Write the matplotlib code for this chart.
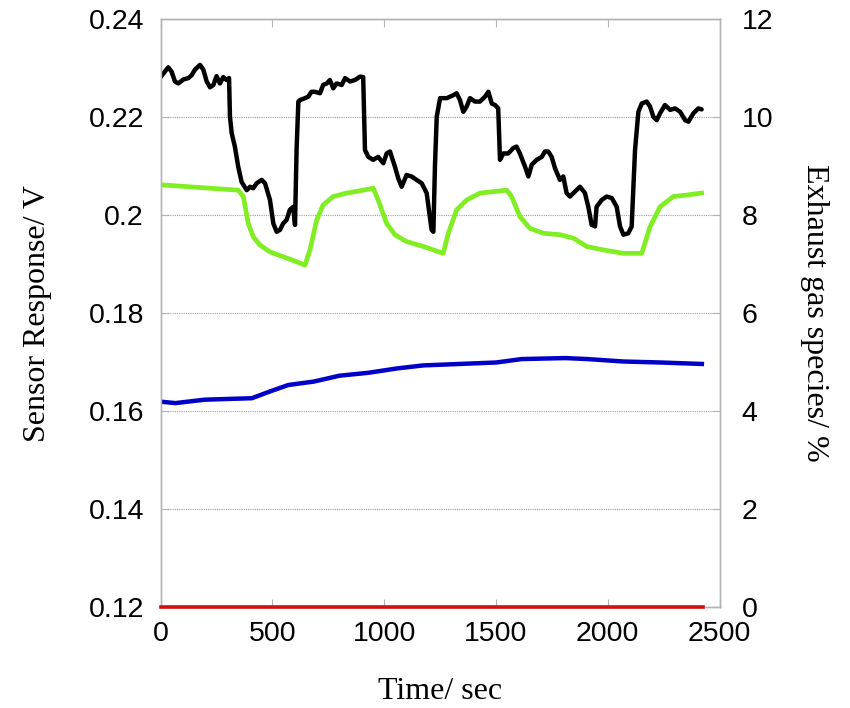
import matplotlib.pyplot as plt

# sensor response (left axis, V)
black_t = [0, 19, 34, 49, 64, 79, 101, 124, 139, 153, 176, 191, 206, 221, 236, 250, 265, 280, 295, 306,
           310, 318, 332, 347, 362, 385, 400, 414, 429, 452, 467, 489, 504, 519, 534, 548, 563, 578, 593, 601,
           608, 616, 623, 646, 660, 675, 690, 713, 727, 743, 757, 772, 787, 810, 825, 847, 869, 892, 906,
           914, 929, 951, 973, 996, 1011, 1026, 1048, 1063, 1078, 1100, 1122, 1145, 1168, 1190, 1212, 1220,
           1227, 1235, 1250, 1280, 1309, 1324, 1339, 1354, 1369, 1384, 1406, 1428, 1451, 1466, 1481, 1496, 1510,
           1518, 1533, 1555, 1577, 1592, 1607, 1630, 1645, 1660, 1682, 1705, 1719, 1734, 1749, 1764, 1786, 1801,
           1816, 1831, 1853, 1876, 1898, 1913, 1928, 1943, 1950, 1973, 1995, 2018, 2040, 2055, 2070, 2092, 2107,
           2122, 2137, 2152, 2174, 2189, 2204, 2219, 2234, 2256, 2279, 2301, 2324, 2346, 2361, 2383, 2405, 2420]
black_v = [0.2282, 0.2293, 0.2302, 0.2293, 0.2273, 0.2269, 0.2277, 0.2280, 0.2286, 0.2297, 0.2307, 0.2297,
           0.2273, 0.2261, 0.2266, 0.2284, 0.2269, 0.2282, 0.2276, 0.2280,
           0.2201, 0.2167, 0.2140, 0.2099, 0.2068, 0.2051, 0.2058, 0.2055, 0.2065, 0.2072, 0.2065, 0.2031,
           0.1983, 0.1966, 0.1970, 0.1983, 0.1990, 0.2011, 0.2017, 0.1980,
           0.2133, 0.2232, 0.2235, 0.2239, 0.2242, 0.2252, 0.2252, 0.2249, 0.2266, 0.2269, 0.2276, 0.2259,
           0.2269, 0.2266, 0.2280, 0.2273, 0.2276, 0.2283, 0.2282,
           0.2133, 0.2119, 0.2113, 0.2119, 0.2106, 0.2126, 0.2130, 0.2099, 0.2075, 0.2058, 0.2082, 0.2079,
           0.2072, 0.2065, 0.2045, 0.1970, 0.1966,
           0.2100, 0.2201, 0.2239, 0.2239, 0.2245, 0.2249, 0.2235, 0.2211, 0.2222, 0.2239, 0.2232, 0.2232,
           0.2242, 0.2252, 0.2228, 0.2225, 0.2218,
           0.2113, 0.2126, 0.2126, 0.2137, 0.2140, 0.2126, 0.2099, 0.2079, 0.2103, 0.2113, 0.2119, 0.2130,
           0.2130, 0.2119, 0.2096, 0.2072, 0.2079,
           0.2045, 0.2038, 0.2048, 0.2058, 0.2045, 0.2017, 0.1980, 0.1977, 0.2017, 0.2031, 0.2038, 0.2035,
           0.2017, 0.1977, 0.1960, 0.1963, 0.1977,
           0.2133, 0.2211, 0.2228, 0.2232, 0.2222, 0.2201, 0.2194, 0.2208, 0.2225, 0.2215, 0.2218, 0.2211,
           0.2194, 0.2191, 0.2208, 0.2218, 0.2216]

# exhaust gas species (right axis, %)
green_t = [0, 347, 370, 392, 414, 444, 489, 548, 608, 646, 668, 698, 727, 772, 832, 906, 951, 973, 1011,
           1048, 1100, 1175, 1220, 1264, 1287, 1324, 1369, 1428, 1488, 1548, 1570, 1607, 1652, 1712, 1786,
           1846, 1906, 1980, 2070, 2152, 2189, 2234, 2293, 2353, 2420]
green_v = [8.62, 8.51, 8.38, 7.83, 7.56, 7.39, 7.25, 7.15, 7.05, 6.98, 7.29, 7.90, 8.21, 8.38, 8.45, 8.51,
           8.55, 8.31, 7.83, 7.60, 7.46, 7.36, 7.29, 7.22, 7.63, 8.11, 8.31, 8.45, 8.48, 8.51, 8.38, 7.97,
           7.73, 7.63, 7.60, 7.53, 7.36, 7.29, 7.22, 7.22, 7.76, 8.17, 8.38, 8.41, 8.45]

blue_t = [0, 66, 196, 408, 490, 571, 685, 800, 930, 1060, 1174, 1338, 1501, 1615, 1810, 1908, 2071, 2234, 2421]
blue_v = [4.19, 4.16, 4.23, 4.26, 4.40, 4.53, 4.60, 4.72, 4.78, 4.87, 4.93, 4.96, 4.99, 5.06, 5.08, 5.06,
          5.01, 4.99, 4.96]

red_t = [0, 2425]
red_v = [0, 0]

left_ticks = [0.12, 0.14, 0.16, 0.18, 0.20, 0.22, 0.24]
left_labels = ['0.12', '0.14', '0.16', '0.18', '0.2', '0.22', '0.24']
right_ticks = [0, 2, 4, 6, 8, 10, 12]
x_ticks = [0, 500, 1000, 1500, 2000, 2500]

SANS = 'Liberation Sans'
SERIF = 'Liberation Serif'
FRAME = '#b4b4b4'


def main():
    fig = plt.figure(figsize=(8.5, 7.08), dpi=100)
    ax = fig.add_axes([0.189, 0.143, 0.6575, 0.8297])
    ax2 = ax.twinx()

    ax.plot(black_t, black_v, color='black', lw=3.2, solid_joinstyle='round', solid_capstyle='round', zorder=3)
    ax2.plot(green_t, green_v, color='#80ee22', lw=3.4, solid_joinstyle='round')
    ax2.plot(blue_t, blue_v, color='#0000c8', lw=3.2, solid_joinstyle='round')
    ax2.plot(red_t, red_v, color='#d01010', lw=2.6, clip_on=False, zorder=5)

    ax.set_xlim(0, 2500)
    ax.set_ylim(0.12, 0.24)
    ax2.set_ylim(0, 12)

    ax.set_xticks(x_ticks)
    ax.set_xticklabels([str(t) for t in x_ticks], fontsize=20.5, fontfamily=SANS)
    ax.set_yticks(left_ticks)
    ax.set_yticklabels(left_labels, fontsize=20.5, fontfamily=SANS)
    ax2.set_yticks(right_ticks)
    ax2.set_yticklabels([str(t) for t in right_ticks], fontsize=20.5, fontfamily=SANS)

    ax.grid(axis='y', linestyle=(0, (1, 1)), color='#a0a0a0', lw=0.8)

    ax.tick_params(axis='x', direction='in', top=True, length=6, color=FRAME, pad=10)
    ax.tick_params(axis='y', direction='in', length=6, color=FRAME, pad=12)
    ax2.tick_params(axis='y', direction='in', length=6, color=FRAME, pad=16)

    for a in (ax, ax2):
        for s in a.spines.values():
            s.set_color(FRAME)
            s.set_linewidth(1.0)

    ax.set_xlabel('Time/ sec', fontsize=23, fontfamily=SERIF, labelpad=22)
    ax.set_ylabel('Sensor Response/ V', fontsize=23, fontfamily=SERIF, labelpad=26)
    ax2.set_ylabel('Exhaust gas species/ %', fontsize=23, fontfamily=SERIF, rotation=270,
                   labelpad=40)

    fig.savefig('out.png', dpi=100)


if __name__ == '__main__':
    main()
